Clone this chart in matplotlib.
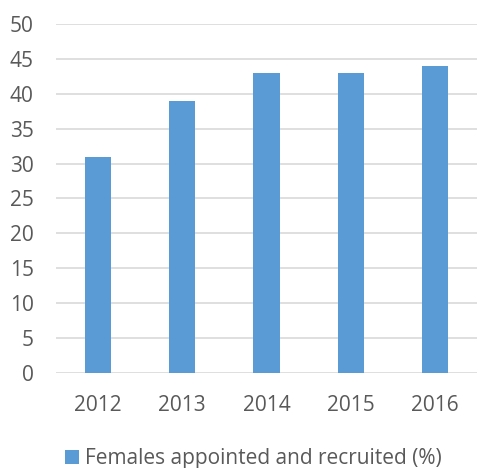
import matplotlib
matplotlib.use("Agg")
import matplotlib.pyplot as plt
import numpy as np

years = ["2012", "2013", "2014", "2015", "2016"]
females_pct = [31, 39, 43, 43, 44]
y_ticks = [0, 5, 10, 15, 20, 25, 30, 35, 40, 45, 50]

plt.rcParams['font.family'] = ['Open Sans', 'DejaVu Sans']

fig = plt.figure(figsize=(4.78, 4.68), dpi=100)
ax = fig.add_axes([0.117, 0.203, 0.881, 0.746])

x = np.arange(len(years))
ax.bar(x, females_pct, width=0.31, color="#5B9BD5", zorder=3,
       label="Females appointed and recruited (%)")

ax.set_xlim(-0.5, len(years) - 0.5)
ax.set_ylim(0, 50)
ax.set_yticks(y_ticks)
ax.set_xticks(x)
ax.set_xticklabels(years)
ax.grid(axis="y", color="#D9D9D9", linewidth=1.2, zorder=0)
for s in ax.spines.values():
    s.set_visible(False)
ax.tick_params(length=0, labelsize=15, colors="#595959")
ax.tick_params(axis="y", pad=16)
ax.tick_params(axis="x", pad=16)

fig.legend(loc="center", bbox_to_anchor=(0.53, 0.02), frameon=False,
           fontsize=15, labelcolor="#595959", handlelength=0.7,
           handleheight=0.7, handletextpad=0.3)

fig.savefig("out.png", dpi=100)
